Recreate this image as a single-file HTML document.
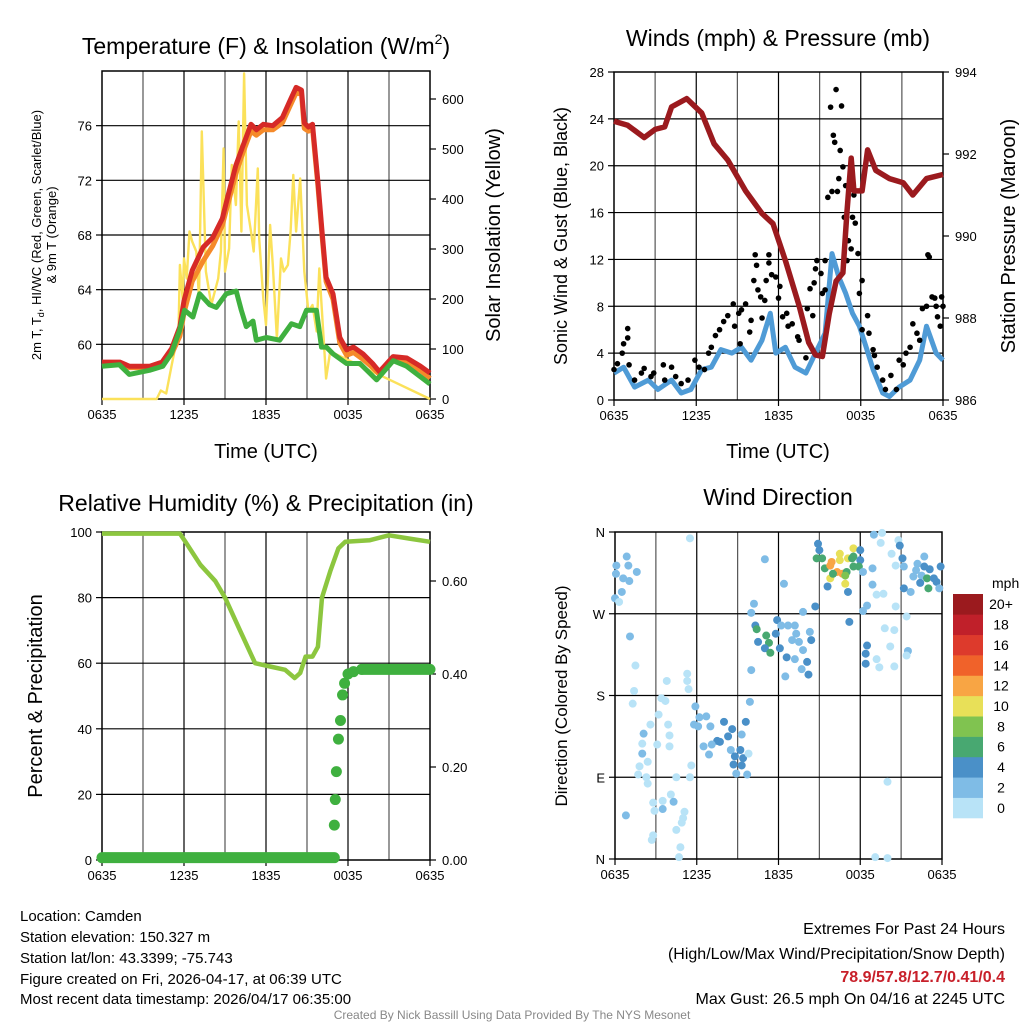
<!DOCTYPE html>
<html><head><meta charset="utf-8">
<style>
html,body{margin:0;padding:0;background:#fff;}
svg{display:block;font-family:"Liberation Sans",sans-serif;}
</style></head>
<body>
<svg id="chart" width="1024" height="1024" viewBox="0 0 1024 1024" xmlns="http://www.w3.org/2000/svg">
<rect width="1024" height="1024" fill="#fff"/>
<g id="p1"></g>
<g id="p2"></g>
<g id="p3"></g>
<g id="p4"></g>

<text x="266" y="54" font-size="23" text-anchor="middle">Temperature (F) &amp; Insolation (W/m<tspan font-size="14" dy="-10">2</tspan><tspan dy="10">)</tspan></text>
<text x="778" y="46" font-size="23" text-anchor="middle">Winds (mph) &amp; Pressure (mb)</text>
<text x="266" y="511" font-size="23" text-anchor="middle">Relative Humidity (%) &amp; Precipitation (in)</text>
<text x="778" y="505" font-size="23" text-anchor="middle">Wind Direction</text>

<text transform="translate(41,235) rotate(-90)" font-size="13" text-anchor="middle">2m T, T<tspan font-size="9" dy="3">d</tspan><tspan dy="-3">, HI/WC (Red, Green, Scarlet/Blue)</tspan></text>
<text transform="translate(56,235) rotate(-90)" font-size="13" text-anchor="middle">&amp; 9m T (Orange)</text>
<text transform="translate(500,235) rotate(-90)" font-size="20" text-anchor="middle">Solar Insolation (Yellow)</text>
<text x="266" y="458" font-size="20" text-anchor="middle">Time (UTC)</text>
<text transform="translate(567,236) rotate(-90)" font-size="18" text-anchor="middle">Sonic Wind &amp; Gust (Blue, Black)</text>
<text transform="translate(1015,236) rotate(-90)" font-size="20" text-anchor="middle">Station Pressure (Maroon)</text>
<text x="778" y="458" font-size="20" text-anchor="middle">Time (UTC)</text>
<text transform="translate(42,696) rotate(-90)" font-size="20" text-anchor="middle">Percent &amp; Precipitation</text>
<text transform="translate(567,696) rotate(-90)" font-size="17" text-anchor="middle">Direction (Colored By Speed)</text>

<g font-size="15">
<text x="20" y="921">Location: Camden</text>
<text x="20" y="942">Station elevation: 150.327 m</text>
<text x="20" y="963">Station lat/lon: 43.3399; -75.743</text>
<text x="20" y="984">Figure created on Fri, 2026-04-17, at 06:39 UTC</text>
<text x="20" y="1004">Most recent data timestamp: 2026/04/17 06:35:00</text>
</g>
<g font-size="16" text-anchor="end">
<text x="1005" y="934">Extremes For Past 24 Hours</text>
<text x="1005" y="959">(High/Low/Max Wind/Precipitation/Snow Depth)</text>
<text x="1005" y="982" fill="#c8202a" font-weight="bold">78.9/57.8/12.7/0.41/0.4</text>
<text x="1005" y="1004">Max Gust: 26.5 mph On 04/16 at 2245 UTC</text>
</g>
<text x="512" y="1019" font-size="12" fill="#888" text-anchor="middle">Created By Nick Bassill Using Data Provided By The NYS Mesonet</text>
</svg>
<script>
// ---------- data ----------
const xTickLabels = ["0635","1235","1835","0035","0635"];
// Temperature panel
const tempT = [0,1.3,2.0,3.5,4.4,5.1,5.7,6.0,6.6,7.4,8.1,8.8,9.3,9.8,10.3,10.9,11.3,11.8,12.5,13.2,13.7,14.2,14.6,14.8,15.1,15.4,15.8,16.1,16.4,16.9,17.4,17.9,18.4,19.1,19.8,20.3,21.3,22.3,23.3,24.0];
const tempRed = [58.7,58.7,58.4,58.4,58.7,59.7,61.3,63.2,65.4,67.1,67.8,69.2,71.2,73.1,74.5,76.1,75.7,76.1,76.0,76.6,77.7,78.8,78.6,76.2,75.9,76.1,71.9,68.3,64.9,63.7,60.5,59.6,59.8,59.3,58.6,58.0,59.1,59.0,58.4,57.9];
const tempOrange = [58.6,58.6,58.3,58.3,58.5,59.3,60.6,62.3,64.6,66.1,67.2,68.7,70.6,72.5,74.0,75.6,75.3,75.7,75.7,76.2,77.3,78.4,78.3,75.8,75.6,75.8,71.6,68.0,64.6,63.3,60.1,59.2,59.4,58.9,58.3,57.8,58.8,58.7,58.1,57.5];
const dewT = [0,1.27,2.0,3.47,4.45,5.06,5.67,6.04,6.65,7.14,7.87,8.36,9.09,9.82,10.19,10.56,11.05,11.29,12.02,13.0,13.86,14.47,14.96,15.69,16.06,16.42,16.91,17.89,18.87,20.09,21.31,22.29,24.0];
const dewGreen = [58.4,58.5,57.8,58.1,58.4,59.3,61.0,62.5,62.0,63.7,62.9,62.7,63.7,63.9,62.5,61.3,61.7,60.3,60.5,60.3,61.5,61.3,62.5,62.5,59.8,59.8,59.3,58.6,58.6,57.4,58.8,58.4,57.1];
const solarT = [0,4.0,4.3,4.7,5.1,5.6,5.7,5.9,6.0,6.2,6.4,6.6,6.9,7.1,7.3,7.6,8.0,8.5,8.7,8.9,9.0,9.3,9.5,9.8,10.0,10.2,10.4,10.6,10.9,11.1,11.4,11.5,11.8,12.0,12.3,12.5,12.8,13.1,13.3,13.6,13.8,14.0,14.2,14.5,14.8,15.1,15.4,15.7,15.9,16.4,16.7,24.0];
const solarW = [0,0,17,11,68,135,268,201,281,241,335,315,295,201,535,255,188,241,295,501,255,301,468,388,555,335,651,388,335,295,461,321,201,148,348,268,121,281,255,268,335,448,335,441,255,175,188,135,261,41,95,0];
// Winds panel
const windT = [0,0.7,1.5,2.5,3.2,4.2,4.9,5.6,6.4,7.1,7.8,8.6,9.3,10.0,10.8,11.4,11.8,12.5,13.2,14.0,14.7,15.4,15.9,16.4,16.9,17.4,17.9,18.4,18.9,19.6,20.1,20.8,21.6,22.3,22.8,23.5,24.0];
const windBlue = [2.3,2.8,1.1,1.7,0.9,1.7,0.6,0.9,2.6,2.8,4.3,4.0,4.5,3.4,5.1,7.4,4.0,4.5,2.8,2.3,4.0,5.7,12.5,10.5,9.1,7.4,6.3,4.5,2.6,0.6,0.3,1.1,1.7,3.4,6.3,4.0,3.4];
const gustT = [0,0.25,0.6,0.7,1.0,1.0,1.1,1.5,2.0,2.2,2.7,2.9,3.6,3.7,4.2,4.5,4.9,5.4,5.9,6.2,6.6,6.9,7.1,7.4,7.7,8.0,8.3,8.7,8.8,9.1,9.3,9.6,9.2,9.9,10.0,10.2,10.3,10.4,10.5,10.7,10.8,11.0,11.1,11.3,11.3,11.5,11.8,12.0,12.1,12.3,12.6,12.7,13.0,13.4,13.5,14.0,14.1,14.3,14.5,14.6,14.7,14.8,15.1,15.2,15.4,15.4,15.6,15.8,15.9,16.0,16.1,16.2,16.3,16.4,16.5,16.6,16.7,16.8,16.9,17.0,17.1,17.3,17.4,17.5,17.6,17.8,17.9,18.1,18.1,18.5,18.6,18.9,19.0,19.2,19.6,19.8,20.2,20.6,20.8,21.1,21.3,21.6,21.8,22.1,22.3,22.5,22.8,22.9,23.0,23.2,23.4,23.5,23.6,23.8,23.9,24.0];
const gustV = [2.6,3.1,4.0,4.8,5.3,6.1,3.0,1.7,2.3,2.7,2.0,2.3,3.0,1.7,2.8,2.0,1.4,1.7,3.4,2.8,2.6,4.0,4.5,5.5,6.0,6.7,7.2,8.2,6.3,7.4,7.7,8.2,4.8,5.8,6.8,10.2,12.4,11.5,9.4,8.8,7.0,8.5,10.2,12.4,11.7,10.7,10.5,8.7,9.7,7.1,7.4,6.3,6.5,5.4,5.1,3.6,7.8,9.5,7.2,10.0,11.2,11.9,10.8,9.1,9.4,11.9,17.3,25.0,17.8,22.6,22.0,26.5,17.8,18.9,21.3,25.1,19.9,15.6,18.3,11.9,13.6,12.9,15.6,17.5,15.1,12.5,9.1,10.2,6.0,7.2,5.7,4.3,3.8,2.8,1.7,0.9,2.1,0.9,3.4,3.0,4.0,4.5,6.5,5.7,5.1,7.8,8.0,12.4,12.2,8.8,8.7,8.0,7.1,6.3,8.8,8.0];
const presT = [0,1.0,2.2,3.0,3.7,4.2,5.3,6.4,7.3,8.3,9.6,10.8,11.6,12.5,13.5,14.2,14.7,15.2,15.7,16.2,16.7,17.0,17.3,17.5,18.1,18.5,19.1,20.1,21.1,21.8,22.8,24.0];
const presMb = [992.8,992.7,992.4,992.6,992.66,993.15,993.35,993.0,992.25,991.85,991.1,990.55,990.3,989.4,988.3,987.4,987.1,987.06,988.1,988.9,989.1,990.6,991.9,991.1,991.1,992.1,991.6,991.4,991.3,991.0,991.4,991.5];
// Humidity panel
const rhT = [0,5.7,6.1,7.2,8.3,9.0,10.1,11.2,12.3,13.4,14.1,14.5,14.9,15.4,15.8,16.1,16.7,17.3,17.8,19.6,21.0,22.5,24.0];
const rhPct = [99.5,99.5,97,90,85,80,70,60,59,58,55.5,57,62,62,65,80,88,95,97,97.5,99,98,97];
const precipT = [17.0,17.07,17.15,17.3,17.45,17.6,17.75,18.0,18.4,19.0,24.0];
const precipIn = [0.075,0.13,0.19,0.26,0.30,0.355,0.38,0.40,0.405,0.41,0.41];
// Wind direction panel
const dirT = [0.1,0.86,0.98,1.6,0.6,1.05,0.5,0,0.3,0.07,1.1,1.5,1.4,1.3,0.8,3.8,5.3,5.3,5.4,3.4,3.7,3.2,2.6,3.9,2.1,4.0,2.0,3.1,4.0,2.0,2.4,1.8,1.7,2.3,2.4,4.5,5.6,5.5,4.1,4.3,3.5,2.8,3.5,2.9,5.1,5.0,4.9,4.5,2.8,2.7,4.8,4.7,5.5,
5.9,6.2,6.7,5.8,6.1,7.0,8.0,8.6,8.3,7.5,7.1,7.7,6.9,6.5,8.5,9.2,8.8,9.4,8.7,9.3,8.9,9.7,9.6,9.3,9.9,9.8,10.0,
10.2,10.0,10.3,10.4,10.5,11.1,11.3,11.0,11.4,11.9,11.8,12.2,12.7,13.2,12.1,12.6,12.5,13.0,13.5,13.3,13.8,13.2,13.7,14.1,14.2,14.4,14.3,13.8,14.7,11.0,12.4,17.2,18.5,18.4,18.4,
14.9,15.0,14.8,15.2,15.4,15.8,15.9,16.3,16.7,16.5,16.5,17.0,17.1,17.5,17.4,17.5,15.8,16.0,16.9,15.6,17.1,18.0,18.0,17.9,17.5,16.9,
18.2,18.9,18.9,18.5,18.2,19.2,19.7,19.0,19.6,19.5,19.8,20.5,20.2,19.2,19.4,20.5,20.0,19.1,20.0,
20.8,20.9,20.3,20.6,21.1,21.2,20.6,21.2,21.7,21.4,21.5,21.4,
22.2,22.1,22.7,22.7,23.1,22.5,22.9,23.0,22.4,23.4,23.6,23.9,23.8,21.9];
const dirDeg = [323,333,323,316,309,306,294,287,283,314,245,213,185,171,48,196,204,196,187,177,174,159,148,148,138,136,127,126,124,116,107,102,93,90,83,90,103,90,71,63,64,62,55,53,52,45,40,32,26,21,13,2,353,
168,156,157,148,146,146,151,143,135,130,126,129,115,124,120,120,113,111,104,103,94,93,151,137,173,116,208,
281,271,257,253,239,246,238,232,227,263,248,257,257,257,232,222,201,241,239,248,230,220,209,217,203,241,250,272,278,330,303,261,235,226,215,
347,340,331,331,320,323,327,316,314,336,329,316,331,342,331,322,309,314,303,300,294,340,329,322,333,312,
316,320,302,279,273,291,292,357,359,348,254,252,234,220,211,212,85,2,1,
351,345,336,323,331,322,278,298,294,267,229,224,
325,318,333,322,319,312,309,298,304,309,305,322,298,311];
const dirSpeed = [3,3,3,3,3,2,3,3,1,3,3,1,1,1,3,1,1,1,1,1,1,1,1,1,3,1,1,1,1,3,1,1,1,1,1,1,1,1,1,3,1,1,3,1,1,1,1,1,1,1,1,1,1,
3,2,2,2,2,2,4,4,4,4,3,4,2,2,2,4,4,4,4,4,3,3,4,3,2,1,3,
3,3,4,6,4,6,6,4,6,4,4,3,2,2,4,4,2,2,2,2,2,3,2,4,4,4,2,2,4,2,2,4,4,4,4,
4,4,6,6,7,12,13,13,13,10,10,7,10,10,7,6,10,7,10,4,4,4,4,6,6,9,
2,2,2,2,2,1,1,2,1,1,1,1,1,1,1,1,1,1,1,
1,4,1,1,4,3,1,4,3,1,3,1,
3,3,3,4,4,3,6,6,4,4,4,4,3,3];
const speedLabels = ["0","2","4","6","8","10","12","14","16","18","20+"];
const speedColors = ["#b8e3f7","#7fbce6","#4a90c8","#48a871","#80c350","#e8e058","#f8a544","#f0622a","#dd3a2c","#c0202a","#9b1a1e"];

// ---------- helpers ----------
const NS="http://www.w3.org/2000/svg";
function mk(parent,tag,attrs){const e=document.createElementNS(NS,tag);for(const k in attrs)e.setAttribute(k,attrs[k]);parent.appendChild(e);return e;}
function lin(d0,d1,r0,r1){return v=>r0+(v-d0)/(d1-d0)*(r1-r0);}

function frame(g,L,R,T,B,xs,hLines){
  for(let h=3;h<24;h+=3){const x=xs(h);const l=mk(g,'line',{x1:x,x2:x,y1:T,y2:B,stroke:(h%6==0)?'#000':'#555','stroke-width':1.2});
    
    }
  hLines.forEach(y=>{const l=mk(g,'line',{x1:L,x2:R,y1:y,y2:y,stroke:'#000','stroke-width':1.2});
    
    });
  const r=mk(g,'rect',{x:L,y:T,width:R-L,height:B-T,fill:'none',stroke:'#000','stroke-width':1.5});
  
  
  xTickLabels.forEach((s,i)=>{const x=xs(i*6);
    mk(g,'line',{x1:x,x2:x,y1:B,y2:B+6,stroke:'#000','stroke-width':1.2});
    const t=mk(g,'text',{x:x,y:B+20,'font-size':13,'text-anchor':'middle'});t.textContent=s;
    
    });
}
function yTicks(g,x,side,vals,ys,fmt,fs){
  vals.forEach(v=>{const y=ys(v);
    mk(g,'line',{x1:x,x2:x+(side<0?-6:6),y1:y,y2:y,stroke:'#000','stroke-width':1.2});
    const t=mk(g,'text',{x:x+(side<0?-10:12),y:y+5,'font-size':fs||13,'text-anchor':side<0?'end':'start'});t.textContent=fmt(v);
    
    });
}
function pathOf(ts,vs,xs,ys){return ts.map((t,i)=>(i?'L':'M')+xs(t).toFixed(1)+','+ys(vs[i]).toFixed(1)).join('');}

// ---------- panel 1 ----------
(function(){
  const g=document.getElementById('p1');const L=102,R=430,T=71,B=399;
  const xs=lin(0,24,L,R), ys=lin(56,80,B,T), ws=lin(0,656,B,T);
  frame(g,L,R,T,B,xs,[60,64,68,72,76].map(ys));
  yTicks(g,L,-1,[60,64,68,72,76],ys,v=>v);
  yTicks(g,R,1,[0,100,200,300,400,500,600],ws,v=>v);
  let p=mk(g,'path',{d:pathOf(solarT,solarW,xs,ws),fill:'none',stroke:'#fbe15a','stroke-width':2.4,'stroke-linejoin':'round'});
  
  
  p=mk(g,'path',{d:pathOf(tempT,tempOrange,xs,ys),fill:'none',stroke:'#f58a2a','stroke-width':5,'stroke-linejoin':'round'});
  
  
  p=mk(g,'path',{d:pathOf(tempT,tempRed,xs,ys),fill:'none',stroke:'#d62a27','stroke-width':5,'stroke-linejoin':'round'});
  
  
  p=mk(g,'path',{d:pathOf(dewT,dewGreen,xs,ys),fill:'none',stroke:'#3fb03f','stroke-width':5,'stroke-linejoin':'round'});
  
  
})();

// ---------- panel 2 ----------
(function(){
  const g=document.getElementById('p2');const L=614,R=943,T=72,B=400;
  const xs=lin(0,24,L,R), ys=lin(0,28,B,T), ps=lin(986,994,B,T);
  frame(g,L,R,T,B,xs,[4,8,12,16,20,24].map(ys));
  yTicks(g,L,-1,[0,4,8,12,16,20,24,28],ys,v=>v);
  yTicks(g,R,1,[986,988,990,992,994],ps,v=>v);
  let p=mk(g,'path',{d:pathOf(windT,windBlue,xs,ys),fill:'none',stroke:'#4f9bd6','stroke-width':5,'stroke-linejoin':'round'});
  
  
  gustT.forEach((t,i)=>{const c=mk(g,'circle',{cx:xs(t),cy:ys(gustV[i]),r:2.8,fill:'#000'});
    
    });
  p=mk(g,'path',{d:pathOf(presT,presMb,xs,ps),fill:'none',stroke:'#9b1a1e','stroke-width':5.5,'stroke-linejoin':'round'});
  
  
})();

// ---------- panel 3 ----------
(function(){
  const g=document.getElementById('p3');const L=102,R=430,T=532,B=860;
  const xs=lin(0,24,L,R), ys=lin(0,100,B,T), pr=lin(0,0.2,B,767);
  frame(g,L,R,T,B,xs,[20,40,60,80].map(ys));
  yTicks(g,L,-1,[0,20,40,60,80,100],ys,v=>v);
  yTicks(g,R,1,[0,0.2,0.4,0.6],pr,v=>v.toFixed(2));
  let p=mk(g,'path',{d:pathOf(rhT,rhPct,xs,ys),fill:'none',stroke:'#8cc63f','stroke-width':4.5,'stroke-linejoin':'round'});
  
  
  p=mk(g,'line',{x1:xs(0),x2:xs(precipT[0]),y1:pr(0.005),y2:pr(0.005),stroke:'#3fb03f','stroke-width':11,'stroke-linecap':'round'});
  
  
  precipT.forEach((t,i)=>{
    if(i==precipT.length-1)return;
    const c=mk(g,'circle',{cx:xs(t),cy:pr(precipIn[i]),r:5.5,fill:'#3fb03f'});
    
    });
  const n=precipT.length;
  p=mk(g,'line',{x1:xs(precipT[n-2]),x2:xs(precipT[n-1]),y1:pr(precipIn[n-2]),y2:pr(precipIn[n-1]),stroke:'#3fb03f','stroke-width':11,'stroke-linecap':'round'});
  
  
})();

// ---------- panel 4 ----------
(function(){
  const g=document.getElementById('p4');const L=615,R=942,T=532,B=859;
  const xs=lin(0,24,L,R), ds=lin(0,360,B,T);
  frame(g,L,R,T,B,xs,[90,180,270].map(ds));
  yTicks(g,L,-1,[0,90,180,270,360],ds,v=>({0:'N',90:'E',180:'S',270:'W',360:'N'})[v]);
  dirT.forEach((t,i)=>{const s=dirSpeed[i];const idx=Math.min(10,Math.floor(s/2));
    const c=mk(g,'circle',{cx:xs(t),cy:ds(dirDeg[i]),r:4,fill:speedColors[idx]});
    
    });
  const cbT=594,cbB=818,h=(cbB-cbT)/11;
  const lab=mk(g,'text',{x:992,y:588,'font-size':14});lab.textContent='mph';
  
  
  speedLabels.forEach((s,i)=>{const y=cbB-(i+1)*h;
    const r=mk(g,'rect',{x:953,y:y,width:30,height:h+0.3,fill:speedColors[i]});
    
    
    const t=mk(g,'text',{x:1001,y:y+h/2+5,'font-size':14,'text-anchor':'middle'});t.textContent=s;
    
    });
})();
</script>
</body></html>
